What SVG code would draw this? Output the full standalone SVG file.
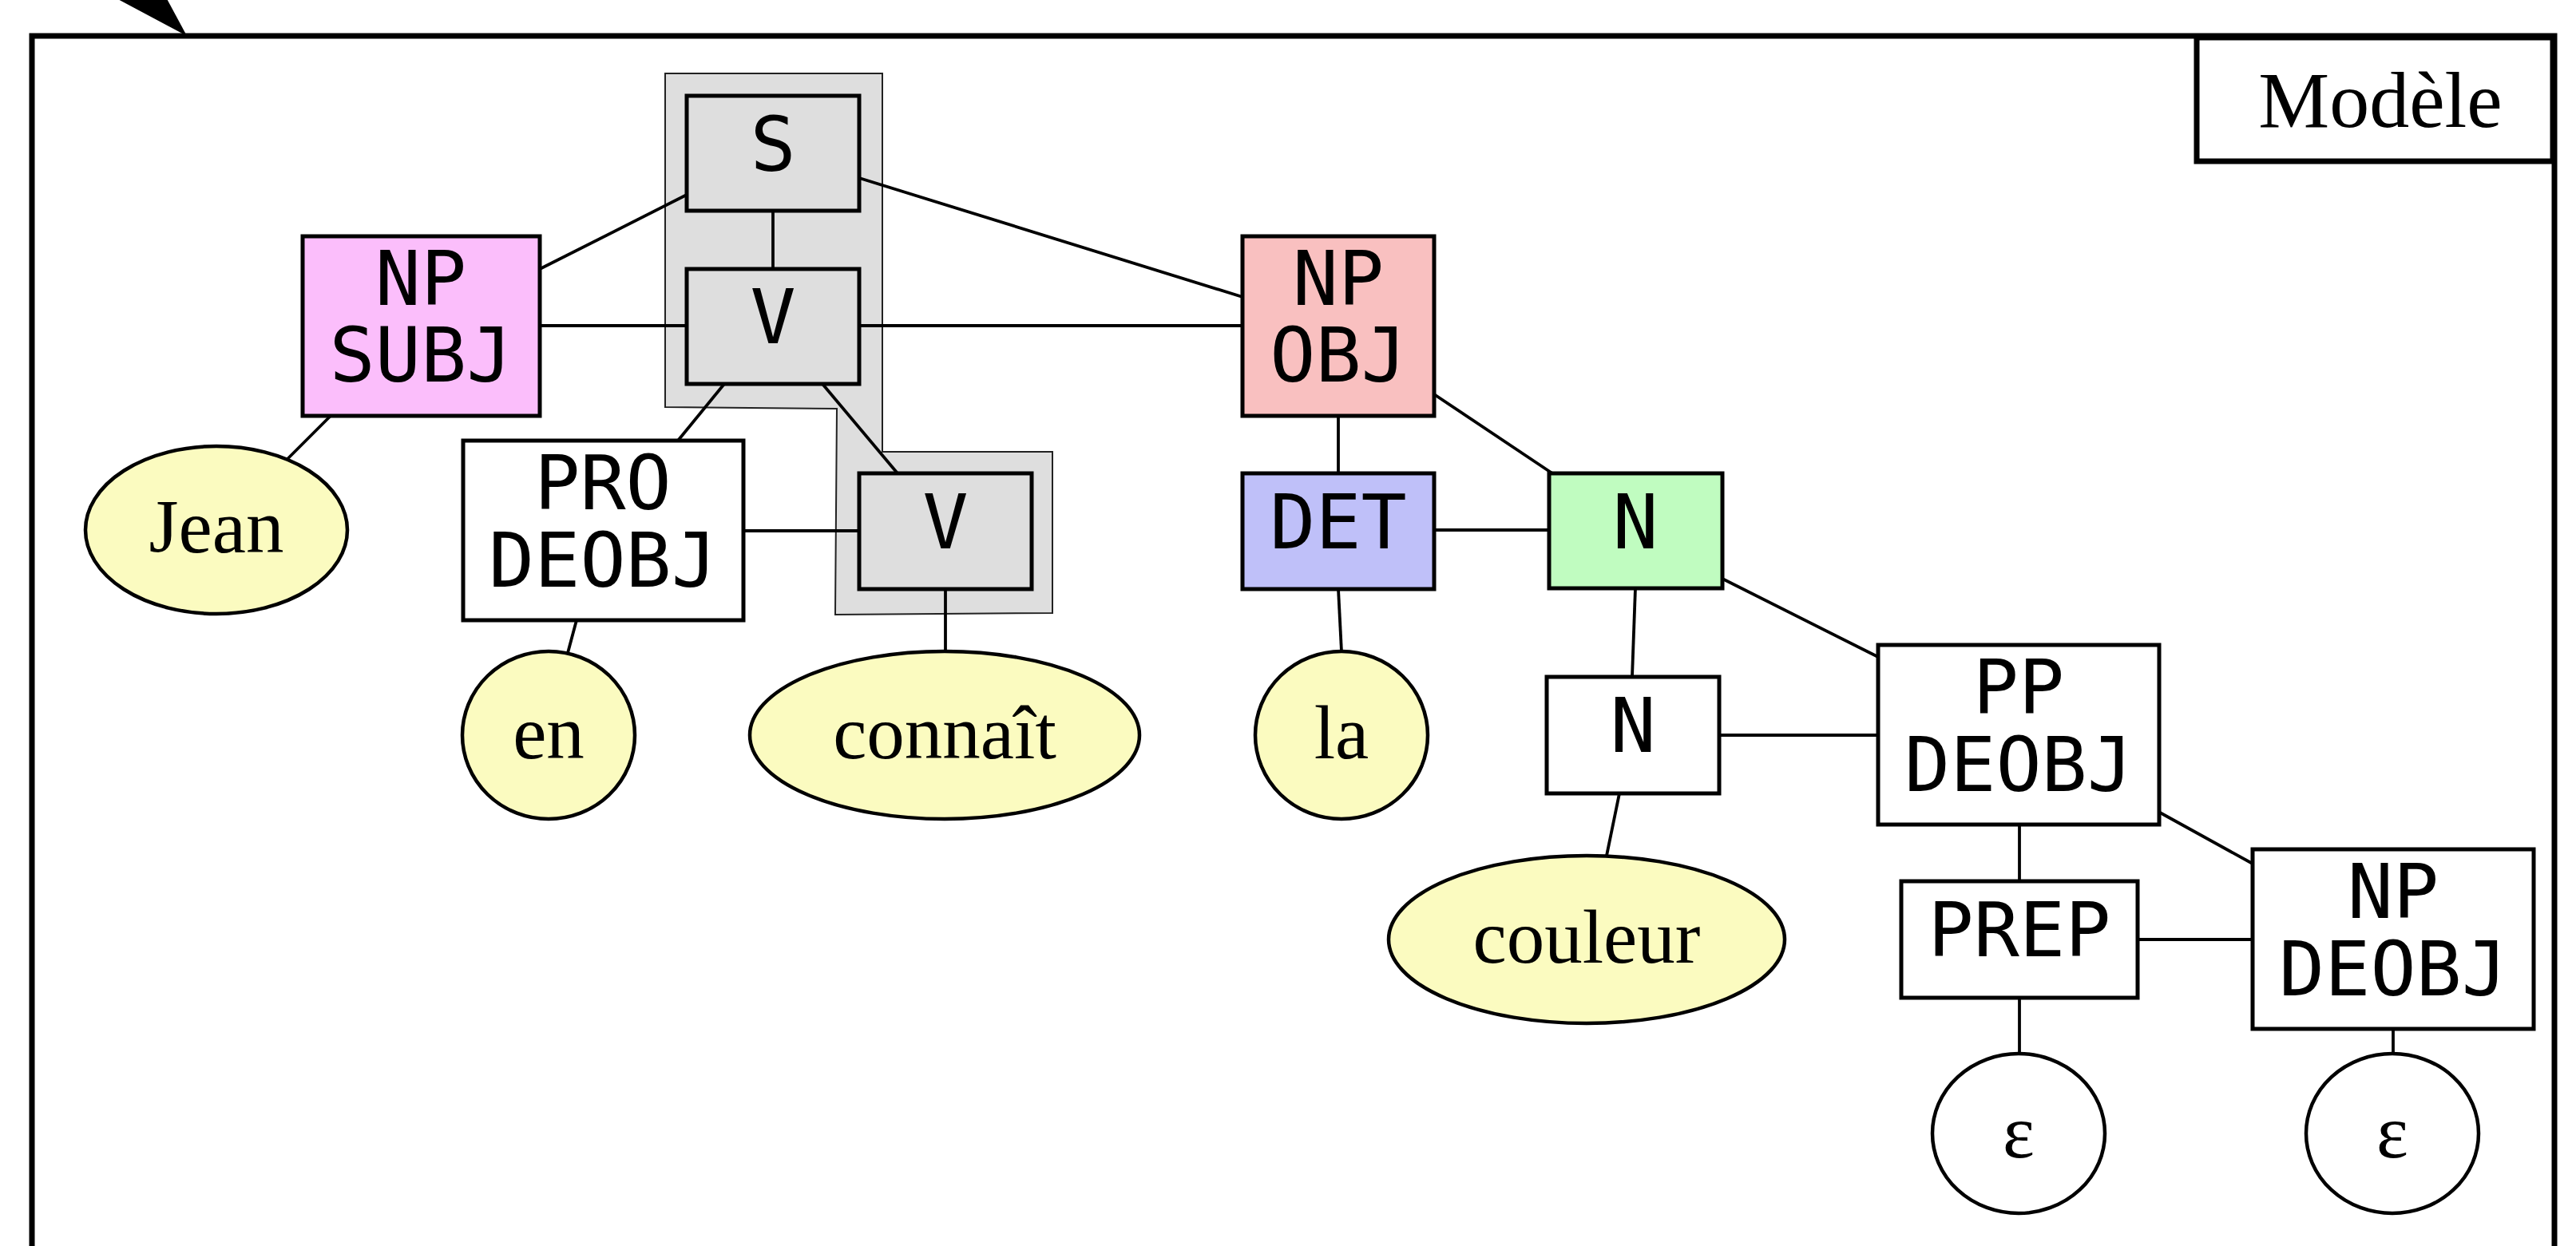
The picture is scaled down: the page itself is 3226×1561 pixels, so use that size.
<svg xmlns="http://www.w3.org/2000/svg" width="3226" height="1561" viewBox="0 0 3226 1561">
<style>
.box{stroke:#000;stroke-width:5}
.ell{stroke:#000;stroke-width:4.5}
.lbl{font-family:"DejaVu Sans Mono",monospace;font-size:95px;text-anchor:middle;fill:#000}
.wrd{font-family:"Liberation Serif","Times New Roman",serif;font-size:95px;text-anchor:middle;fill:#000}
.edge{stroke:#000;stroke-width:3.8;fill:none}
</style>
<rect width="3226" height="1561" fill="#fff"/>
<g id="frame">
<path d="M40,1570 L40,45 L3199,45 L3199,1570" fill="none" stroke="#000" stroke-width="7"/>
<polygon points="112,-20 199,-20 234,45" fill="#000"/>
<rect x="2751" y="47" width="446" height="155" fill="#fff" stroke="#000" stroke-width="7"/>
<text x="2981" y="159" font-family="'Liberation Serif','Times New Roman',serif" font-size="100" text-anchor="middle">Modèle</text>
</g>
<g id="cluster">
<polygon points="833,92 1105,92 1105,566 1318,566 1318,768 1046,770 1048,512 833,510" fill="#dedede" stroke="#222" stroke-width="2"/>
</g>
<g id="connectors">
<line class="edge" x1="860" y1="244" x2="676" y2="337"/>
<line class="edge" x1="968" y1="264" x2="968" y2="337"/>
<line class="edge" x1="1076" y1="223" x2="1556" y2="372"/>
<line class="edge" x1="676" y1="408" x2="860" y2="408"/>
<line class="edge" x1="1076" y1="408" x2="1556" y2="408"/>
<line class="edge" x1="907" y1="481" x2="849" y2="552"/>
<line class="edge" x1="1030" y1="481" x2="1124" y2="593"/>
<line class="edge" x1="931" y1="665" x2="1076" y2="665"/>
<line class="edge" x1="1184" y1="738" x2="1184" y2="815"/>
<line class="edge" x1="414" y1="521" x2="360" y2="575"/>
<line class="edge" x1="722" y1="777" x2="711" y2="818"/>
<line class="edge" x1="1676" y1="521" x2="1676" y2="593"/>
<line class="edge" x1="1796" y1="494" x2="1944" y2="593"/>
<line class="edge" x1="1796" y1="664" x2="1940" y2="664"/>
<line class="edge" x1="1676" y1="738" x2="1680" y2="816"/>
<line class="edge" x1="2048" y1="737" x2="2044" y2="848"/>
<line class="edge" x1="2157" y1="725" x2="2352" y2="823"/>
<line class="edge" x1="2153" y1="921" x2="2352" y2="921"/>
<line class="edge" x1="2028" y1="994" x2="2012" y2="1072"/>
<line class="edge" x1="2529" y1="1033" x2="2529" y2="1104"/>
<line class="edge" x1="2705" y1="1018" x2="2821" y2="1082"/>
<line class="edge" x1="2677" y1="1177" x2="2821" y2="1177"/>
<line class="edge" x1="2529" y1="1250" x2="2529" y2="1321"/>
<line class="edge" x1="2997" y1="1289" x2="2997" y2="1321"/>
</g>
<g id="node-S"><rect class="box" x="860" y="120" width="216" height="144" fill="#dedede"/><text class="lbl" x="968" y="214">S</text></g>
<g id="node-V1"><rect class="box" x="860" y="337" width="216" height="144" fill="#dedede"/><text class="lbl" x="968" y="430">V</text></g>
<g id="node-V2"><rect class="box" x="1076" y="593" width="216" height="145" fill="#dedede"/><text class="lbl" x="1184" y="687">V</text></g>
<g id="node-NPSUBJ"><rect class="box" x="379" y="296" width="297" height="225" fill="#fbbefb"/><text class="lbl" x="527" y="382">NP</text><text class="lbl" x="527" y="478">SUBJ</text></g>
<g id="node-NPOBJ"><rect class="box" x="1556" y="296" width="240" height="225" fill="#f9c0c0"/><text class="lbl" x="1676" y="382">NP</text><text class="lbl" x="1676" y="478">OBJ</text></g>
<g id="node-PRODEOBJ"><rect class="box" x="580" y="552" width="351" height="225" fill="#fff"/><text class="lbl" x="755" y="638">PRO</text><text class="lbl" x="755" y="735">DEOBJ</text></g>
<g id="node-DET"><rect class="box" x="1556" y="593" width="240" height="145" fill="#bfc0f9"/><text class="lbl" x="1676" y="687">DET</text></g>
<g id="node-N1"><rect class="box" x="1940" y="593" width="217" height="144" fill="#c0fcc0"/><text class="lbl" x="2048" y="687">N</text></g>
<g id="node-N2"><rect class="box" x="1937" y="848" width="216" height="146" fill="#fff"/><text class="lbl" x="2045" y="942">N</text></g>
<g id="node-PPDEOBJ"><rect class="box" x="2352" y="808" width="352" height="225" fill="#fff"/><text class="lbl" x="2528" y="894">PP</text><text class="lbl" x="2528" y="991">DEOBJ</text></g>
<g id="node-PREP"><rect class="box" x="2381" y="1104" width="296" height="146" fill="#fff"/><text class="lbl" x="2529" y="1198">PREP</text></g>
<g id="node-NPDEOBJ"><rect class="box" x="2821" y="1064" width="352" height="225" fill="#fff"/><text class="lbl" x="2997" y="1150">NP</text><text class="lbl" x="2997" y="1247">DEOBJ</text></g>
<g id="node-Jean"><ellipse class="ell" cx="271" cy="664" rx="164" ry="105" fill="#fbfbc0"/><text class="wrd" x="271" y="692">Jean</text></g>
<g id="node-en"><ellipse class="ell" cx="687" cy="921" rx="108" ry="105" fill="#fbfbc0"/><text class="wrd" x="687" y="950">en</text></g>
<g id="node-connait"><ellipse class="ell" cx="1183" cy="921" rx="244" ry="105" fill="#fbfbc0"/><text class="wrd" x="1183" y="950">connaît</text></g>
<g id="node-la"><ellipse class="ell" cx="1680" cy="921" rx="108" ry="105" fill="#fbfbc0"/><text class="wrd" x="1680" y="950">la</text></g>
<g id="node-couleur"><ellipse class="ell" cx="1987" cy="1177" rx="248" ry="105" fill="#fbfbc0"/><text class="wrd" x="1987" y="1206">couleur</text></g>
<g id="node-eps1"><ellipse class="ell" cx="2528" cy="1420" rx="108" ry="100" fill="#fff"/><text class="wrd" x="2528" y="1450">ε</text></g>
<g id="node-eps2"><ellipse class="ell" cx="2996" cy="1420" rx="108" ry="100" fill="#fff"/><text class="wrd" x="2996" y="1450">ε</text></g>
</svg>
